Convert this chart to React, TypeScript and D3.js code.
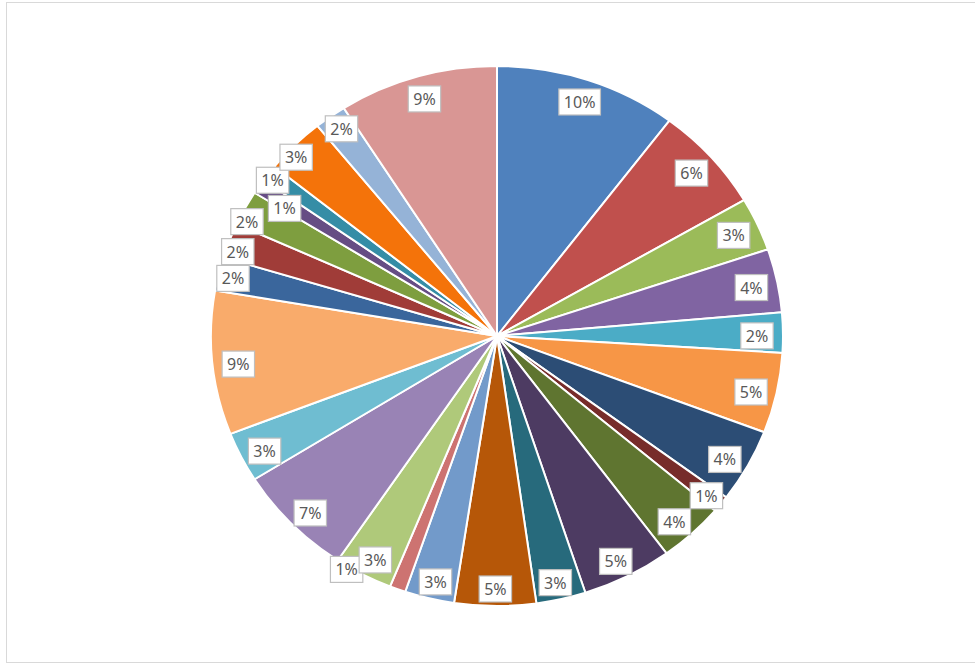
import React from 'react';
import * as d3 from 'd3';

const categories = [
  'S01', 'S02', 'S03', 'S04', 'S05', 'S06', 'S07', 'S08', 'S09', 'S10', 'S11', 'S12', 'S13',
  'S14', 'S15', 'S16', 'S17', 'S18', 'S19', 'S20', 'S21', 'S22', 'S23', 'S24', 'S25', 'S26',
];
const values = [
  10.3, 6.3, 3.2, 3.8, 2.4, 4.8, 4.4, 1.0, 3.7, 5.1, 2.8, 4.6, 2.8,
  0.9, 3.3, 6.7, 3.0, 8.6, 2.0, 2.1, 2.1, 0.9, 1.0, 3.4, 1.8, 9.0,
];
const colors = [
  '#4F81BD', '#C0504D', '#9BBB59', '#8064A2', '#4BACC6', '#F79646',
  '#2C4D75', '#772C2A', '#5F7530', '#4D3B62', '#276A7C', '#B65708',
  '#729ACA', '#CD7371', '#AFC97A', '#9983B5', '#6FBDD1', '#F9AB6B',
  '#3A669C', '#A03C38', '#7E9E3F', '#664D84', '#358DA6', '#F4730A',
  '#95B3D7', '#D99694',
];
// layout tweaks for labels that the chart moved to avoid overlaps
const labelNudge: Record<number, [number, number]> = {
  7: [6, 1], 13: [-60, -4], 18: [-11, -3], 19: [-16, 1], 20: [-21, 1],
  21: [4, 8], 22: [-17, -8], 23: [-17, -5], 24: [-4, -7],
};

const W = 975;
const H = 666;
const cx = 497;
const cy = 336;
const rx = 286;
const ry = 270;

function textWidth(s: string) {
  let w = 0;
  for (const ch of s) w += ch === '%' ? 13.2 : 9.2;
  return w;
}

export default function App() {
  const total = d3.sum(values);
  const pie = d3.pie<number>().sort(null).value((d) => d)(values);
  const arc = d3.arc<d3.PieArcDatum<number>>().innerRadius(0).outerRadius(ry);
  const sx = rx / ry;

  return (
    <svg
      width={W}
      height={H}
      style={{ position: 'absolute', left: 0, top: 0, background: '#fff' }}
    >
      <rect x={6.5} y={2.5} width={990} height={660} fill="#fff" stroke="#d9d9d9" strokeWidth={1} />
      <g transform={`translate(${cx},${cy}) scale(${sx},1)`}>
        {pie.map((p, i) => (
          <path
            key={categories[i]}
            d={arc(p) || ''}
            fill={colors[i]}
            stroke="#fff"
            strokeWidth={2}
            vectorEffect="non-scaling-stroke"
          />
        ))}
      </g>
      <g fontFamily="'Noto Sans', sans-serif" fontSize={16} fill="#595959">
        {pie.map((p, i) => {
          const a = (p.startAngle + p.endAngle) / 2;
          const nud = labelNudge[i] || [0, 0];
          const x = cx + Math.sin(a) * (rx - 26) + nud[0];
          const y = cy + 3 - Math.cos(a) * (ry - 20) + nud[1];
          const label = `${Math.round((values[i] / total) * 100)}%`;
          const w = textWidth(label) + 10;
          const h = 26;
          return (
            <g key={'l' + i}>
              <rect
                x={x - w / 2}
                y={y - h / 2}
                width={w}
                height={h}
                fill="#fff"
                stroke="#bfbfbf"
                strokeWidth={1.2}
              />
              <text x={x} y={y} textAnchor="middle" dominantBaseline="central">
                {label}
              </text>
            </g>
          );
        })}
      </g>
    </svg>
  );
}
